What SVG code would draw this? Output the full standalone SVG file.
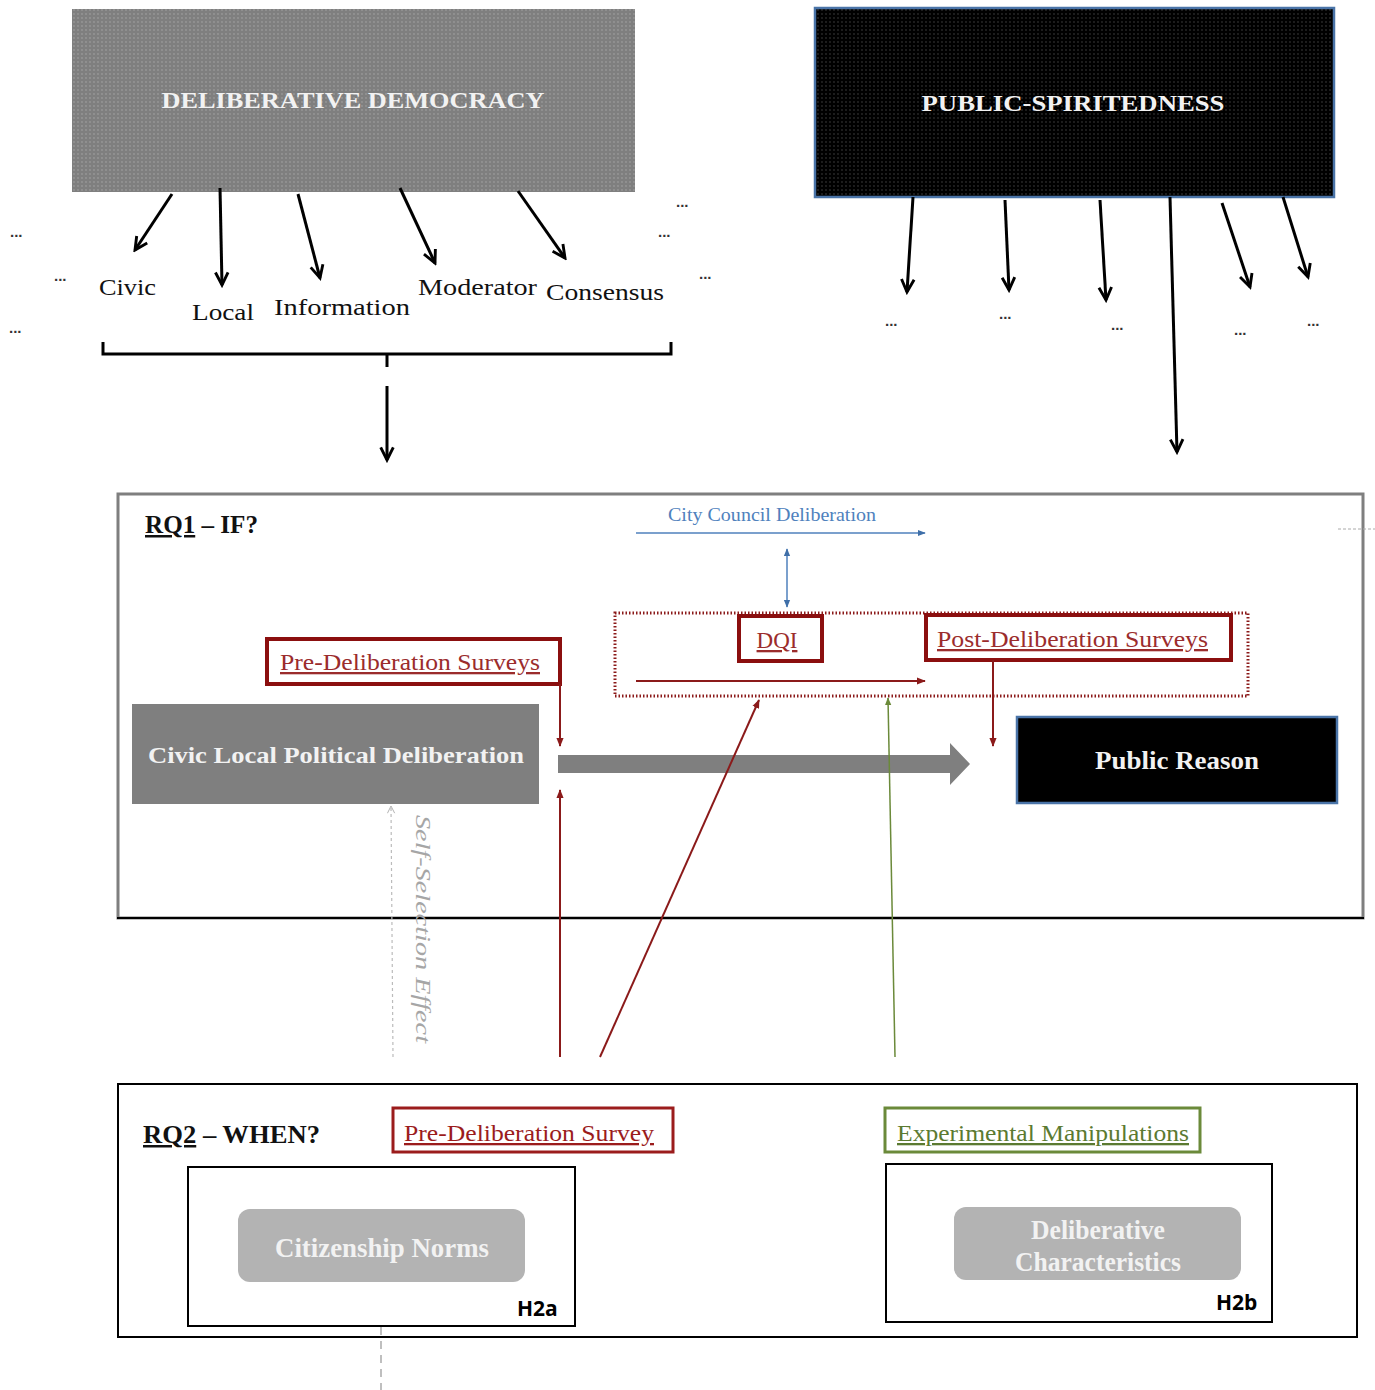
<svg xmlns="http://www.w3.org/2000/svg" width="1375" height="1390" viewBox="0 0 1375 1390">
<style>
.serif{font-family:"Liberation Serif","Times New Roman",serif}
.lbl{font-family:"Liberation Serif",serif;font-size:24px;fill:#111}
.dots{font-family:"Liberation Sans",sans-serif;font-size:15px;fill:#333;font-weight:bold}
.blk{stroke:#000;stroke-width:3;fill:none}
.red{stroke:#8b1a1a;stroke-width:2;fill:none}
.redtxt{font-family:"Liberation Serif",serif;font-size:23px;fill:#9b2c2c;text-decoration:underline}
.redbox{fill:#fff;stroke:#8b0f0f;stroke-width:4}
.hlbl{font-family:"Open Sans","Liberation Sans",sans-serif;font-weight:bold;font-size:21px;fill:#000}
.head{font-family:"Liberation Serif",serif;font-weight:bold;font-size:25px;fill:#111}
.white{font-family:"Liberation Serif",serif;fill:#f2f2f2}
</style>
<defs>
<pattern id="dotsL" width="4" height="4" patternUnits="userSpaceOnUse"><circle cx="2" cy="2" r="0.7" fill="#ffffff" fill-opacity="0.35"/></pattern>
<pattern id="dotsD" width="4" height="4" patternUnits="userSpaceOnUse"><circle cx="2" cy="2" r="0.7" fill="#ffffff" fill-opacity="0.3"/></pattern>
<marker id="aBlk" viewBox="0 0 20 20" refX="17" refY="10" markerWidth="18" markerHeight="18" markerUnits="userSpaceOnUse" orient="auto"><path d="M3,3 L17,10 L3,17" fill="none" stroke="#000" stroke-width="3.2"/></marker>
<marker id="aBlue" viewBox="0 0 10 10" refX="9" refY="5" markerWidth="8" markerHeight="8" markerUnits="userSpaceOnUse" orient="auto-start-reverse"><path d="M0,1 L10,5 L0,9 Z" fill="#3f6fa8"/></marker>
<marker id="aRed" viewBox="0 0 10 10" refX="9" refY="5" markerWidth="9" markerHeight="9" markerUnits="userSpaceOnUse" orient="auto"><path d="M0,1 L10,5 L0,9 Z" fill="#8b1a1a"/></marker>
<marker id="aGreen" viewBox="0 0 10 10" refX="9" refY="5" markerWidth="8" markerHeight="8" markerUnits="userSpaceOnUse" orient="auto"><path d="M0,1 L10,5 L0,9 Z" fill="#6b8a3a"/></marker>
<marker id="aGray" viewBox="0 0 10 10" refX="9" refY="5" markerWidth="9" markerHeight="9" markerUnits="userSpaceOnUse" orient="auto"><path d="M1,1 L9,5 L1,9" fill="none" stroke="#aaa" stroke-width="1"/></marker>
</defs>
<rect width="1375" height="1390" fill="#fff"/>

<g id="deliberative-democracy">
<rect x="72" y="9" width="563" height="183" fill="#7f7f7f"/>
<rect x="72" y="9" width="563" height="183" fill="url(#dotsL)"/>
<text class="white" x="353" y="108" font-size="23" font-weight="bold" text-anchor="middle" textLength="383" lengthAdjust="spacingAndGlyphs">DELIBERATIVE DEMOCRACY</text>
</g>

<g id="public-spiritedness">
<rect x="815" y="8" width="519" height="189" fill="#000" stroke="#4a74a8" stroke-width="2.5"/>
<rect x="816" y="9" width="517" height="187" fill="url(#dotsD)"/>
<text class="white" x="1073" y="111" font-size="23" font-weight="bold" text-anchor="middle" textLength="303" lengthAdjust="spacingAndGlyphs">PUBLIC-SPIRITEDNESS</text>
</g>

<g id="dd-labels">
<text class="lbl" x="99" y="295" textLength="57" lengthAdjust="spacingAndGlyphs">Civic</text>
<text class="lbl" x="192" y="320" textLength="62" lengthAdjust="spacingAndGlyphs">Local</text>
<text class="lbl" x="274" y="315" textLength="136" lengthAdjust="spacingAndGlyphs">Information</text>
<text class="lbl" x="418" y="295" textLength="119" lengthAdjust="spacingAndGlyphs">Moderator</text>
<text class="lbl" x="546" y="300" textLength="118" lengthAdjust="spacingAndGlyphs">Consensus</text>
<text class="dots" x="10" y="237">...</text>
<text class="dots" x="54" y="281">...</text>
<text class="dots" x="9" y="333">...</text>
<text class="dots" x="676" y="207">...</text>
<text class="dots" x="658" y="237">...</text>
<text class="dots" x="699" y="279">...</text>
</g>

<g id="ps-labels">
<text class="dots" x="885" y="326">...</text>
<text class="dots" x="999" y="319">...</text>
<text class="dots" x="1111" y="330">...</text>
<text class="dots" x="1234" y="335">...</text>
<text class="dots" x="1307" y="326">...</text>
</g>

<g id="rq1">
<rect x="118" y="494" width="1245" height="424" fill="none" stroke="#7f7f7f" stroke-width="3"/>
<line x1="117" y1="918" x2="1364" y2="918" stroke="#000" stroke-width="2"/>
<text class="head" x="145" y="533" textLength="113" lengthAdjust="spacingAndGlyphs"><tspan text-decoration="underline">RQ1</tspan> – IF?</text>
<line x1="1338" y1="529" x2="1375" y2="529" stroke="#aaa" stroke-width="1" stroke-dasharray="3,2"/>
</g>

<g id="city-council">
<text class="serif" x="668" y="521" font-size="19" fill="#4f81bd" textLength="208" lengthAdjust="spacingAndGlyphs">City Council Deliberation</text>
</g>

<g id="dqi-group">
<rect x="615" y="613" width="633" height="83" fill="none" stroke="#8b1a1a" stroke-width="3" stroke-dasharray="1.5,2"/>
</g>

<g id="dqi">
<rect class="redbox" x="739" y="616" width="83" height="45"/>
<text class="redtxt" x="777" y="648" font-size="25" text-anchor="middle">DQI</text>
</g>

<g id="post-deliberation">
<rect class="redbox" x="926" y="615" width="305" height="45"/>
<text class="redtxt" x="937" y="647" textLength="271" lengthAdjust="spacingAndGlyphs">Post-Deliberation Surveys</text>
</g>

<g id="pre-deliberation-surveys">
<rect class="redbox" x="267" y="639" width="293" height="45" stroke-width="3.5"/>
<text class="redtxt" x="280" y="670" textLength="260" lengthAdjust="spacingAndGlyphs">Pre-Deliberation Surveys</text>
</g>

<g id="civic-local">
<rect x="132" y="704" width="407" height="100" fill="#7f7f7f"/>
<text class="white" x="336" y="763" font-size="23" font-weight="bold" text-anchor="middle" textLength="376" lengthAdjust="spacingAndGlyphs">Civic Local Political Deliberation</text>
</g>

<g id="public-reason">
<rect x="1017" y="717" width="320" height="86" fill="#000" stroke="#4a74a8" stroke-width="2.5"/>
<text class="white" x="1177" y="769" font-size="25" font-weight="bold" text-anchor="middle" textLength="164" lengthAdjust="spacingAndGlyphs">Public Reason</text>
</g>

<g id="self-selection">
<text class="serif" transform="translate(416,815) rotate(90)" font-size="22" font-style="italic" fill="#a6a6a6" textLength="228" lengthAdjust="spacingAndGlyphs">Self-Selection Effect</text>
</g>

<g id="rq2">
<rect x="118" y="1084" width="1239" height="253" fill="none" stroke="#000" stroke-width="2"/>
<text class="head" x="143" y="1143" textLength="177" lengthAdjust="spacingAndGlyphs"><tspan text-decoration="underline">RQ2</tspan> – WHEN?</text>
</g>

<g id="pre-deliberation-survey">
<rect x="393" y="1108" width="280" height="44" fill="#fff" stroke="#9b1c1c" stroke-width="3"/>
<text class="redtxt" x="404" y="1141" textLength="250" lengthAdjust="spacingAndGlyphs" style="fill:#9b1c1c">Pre-Deliberation Survey</text>
</g>

<g id="experimental-manipulations">
<rect x="885" y="1108" width="315" height="44" fill="#fff" stroke="#6b8a3a" stroke-width="3"/>
<text class="serif" x="897" y="1141" font-size="23" fill="#5b7a31" text-decoration="underline" textLength="292" lengthAdjust="spacingAndGlyphs">Experimental Manipulations</text>
</g>

<g id="h2a">
<rect x="188" y="1167" width="387" height="159" fill="#fff" stroke="#000" stroke-width="2"/>
<rect x="238" y="1209" width="287" height="73" rx="12" fill="#b3b3b3"/>
<text class="white" x="382" y="1257" font-size="27" font-weight="bold" text-anchor="middle" textLength="214" lengthAdjust="spacingAndGlyphs">Citizenship Norms</text>
<text class="hlbl" x="517" y="1316">H2a</text>
</g>

<g id="h2b">
<rect x="886" y="1164" width="386" height="158" fill="#fff" stroke="#000" stroke-width="2"/>
<rect x="954" y="1207" width="287" height="73" rx="12" fill="#b3b3b3"/>
<text class="white" x="1098" y="1239" font-size="27" font-weight="bold" text-anchor="middle" textLength="134" lengthAdjust="spacingAndGlyphs">Deliberative</text>
<text class="white" x="1098" y="1271" font-size="27" font-weight="bold" text-anchor="middle" textLength="166" lengthAdjust="spacingAndGlyphs">Characteristics</text>
<text class="hlbl" x="1216" y="1310">H2b</text>
</g>

<g id="connectors">
<line class="blk" x1="172" y1="194" x2="135" y2="250" marker-end="url(#aBlk)"/>
<line class="blk" x1="220" y1="188" x2="222" y2="285" marker-end="url(#aBlk)"/>
<line class="blk" x1="298" y1="194" x2="320" y2="278" marker-end="url(#aBlk)"/>
<line class="blk" x1="400" y1="188" x2="435" y2="263" marker-end="url(#aBlk)"/>
<line class="blk" x1="518" y1="191" x2="565" y2="258" marker-end="url(#aBlk)"/>
<path d="M103,342 L103,354 L671,354 L671,342" fill="none" stroke="#000" stroke-width="3"/>
<line x1="387" y1="354" x2="387" y2="367" stroke="#000" stroke-width="3"/>
<line class="blk" x1="387" y1="386" x2="387" y2="460" marker-end="url(#aBlk)"/>
<line class="blk" x1="913" y1="197" x2="907" y2="292" marker-end="url(#aBlk)"/>
<line class="blk" x1="1005" y1="200" x2="1009" y2="290" marker-end="url(#aBlk)"/>
<line class="blk" x1="1100" y1="200" x2="1106" y2="300" marker-end="url(#aBlk)"/>
<line class="blk" x1="1170" y1="197" x2="1177" y2="452" marker-end="url(#aBlk)"/>
<line class="blk" x1="1222" y1="203" x2="1250" y2="287" marker-end="url(#aBlk)"/>
<line class="blk" x1="1283" y1="197" x2="1308" y2="277" marker-end="url(#aBlk)"/>
<line x1="636" y1="533" x2="925" y2="533" stroke="#4f81bd" stroke-width="1.5" marker-end="url(#aBlue)"/>
<line x1="787" y1="549" x2="787" y2="607" stroke="#4f81bd" stroke-width="1.5" marker-start="url(#aBlue)" marker-end="url(#aBlue)"/>
<line class="red" x1="636" y1="681" x2="925" y2="681" marker-end="url(#aRed)"/>
<line class="red" x1="993" y1="660" x2="993" y2="746" marker-end="url(#aRed)"/>
<line class="red" x1="560" y1="684" x2="560" y2="746" marker-end="url(#aRed)"/>
<path d="M558,755 L950,755 L950,743 L970,764 L950,785 L950,773 L558,773 Z" fill="#7f7f7f"/>
<line class="red" x1="560" y1="1057" x2="560" y2="790" marker-end="url(#aRed)"/>
<line class="red" x1="600" y1="1057" x2="759" y2="700" marker-end="url(#aRed)"/>
<line x1="895" y1="1057" x2="888" y2="698" stroke="#6b8a3a" stroke-width="1.5" marker-end="url(#aGreen)"/>
<line x1="393" y1="1057" x2="391" y2="806" stroke="#bbb" stroke-width="1.2" stroke-dasharray="3,3" marker-end="url(#aGray)"/>
<line x1="381" y1="1327" x2="381" y2="1390" stroke="#aaa" stroke-width="1.5" stroke-dasharray="8,6"/>
</g>
</svg>
